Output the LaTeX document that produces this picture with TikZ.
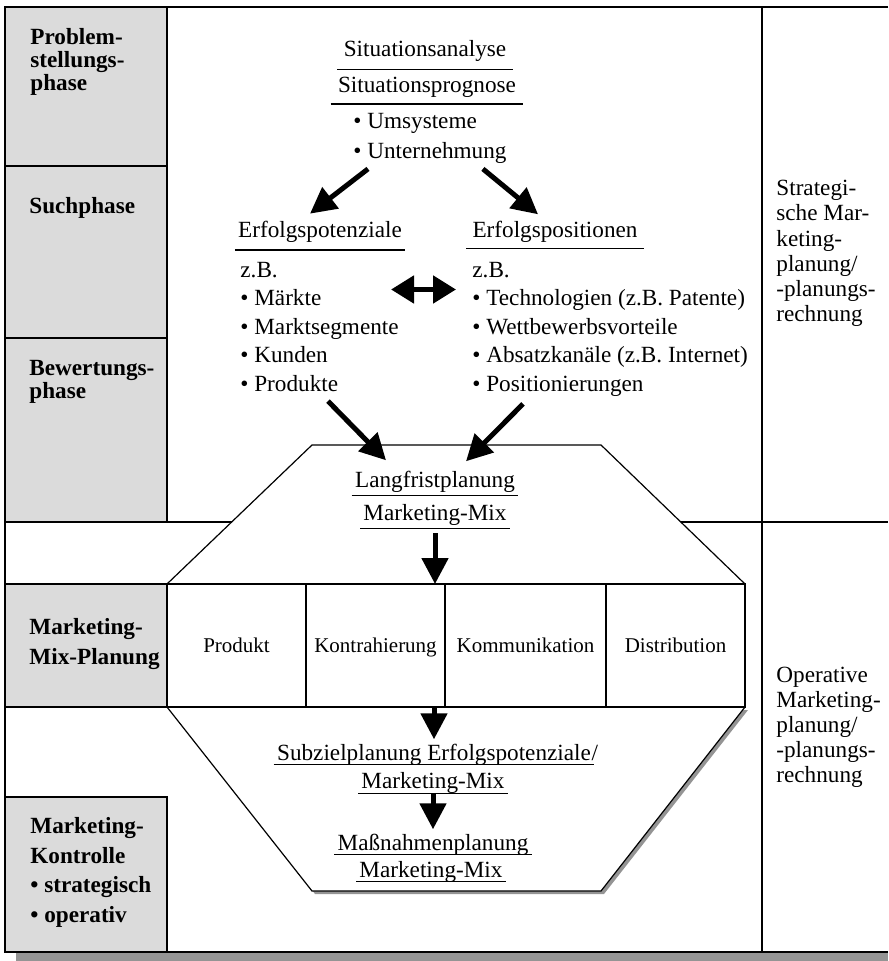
\documentclass[tikz,border=0pt]{standalone}
\usepackage{fontspec}
\setmainfont{Liberation Serif}
\usetikzlibrary{arrows.meta}
\usetikzlibrary{positioning}

\definecolor{phasengrau}{gray}{0.86}
\definecolor{schattengrau}{gray}{0.58}

\tikzset{
  Rahmen/.style={line width=0.9pt},
  Linie/.style={line width=0.6pt},
  Phase/.style={anchor=base west, inner sep=0pt, align=left,
    font=\fontsize{11.6}{#1}\selectfont\bfseries},
  Phase/.default=11.7pt,
  Liste/.style={anchor=base west, inner sep=0pt, align=left,
    font=\fontsize{11.6}{#1}\selectfont},
  Liste/.default=14.3pt,
  Text/.style={inner sep=0pt, font=\fontsize{11.6}{14}\selectfont},
  UL/.style={anchor=base, inner xsep=1.5pt, inner ysep=#1, text depth=0pt,
    font=\fontsize{11.6}{14}\selectfont,
    append after command={(\tikzlastnode.south west) edge[Linie] (\tikzlastnode.south east)}},
  Feld/.style={draw, line width=0.7pt, outer sep=0pt, minimum height=61.5pt,
    minimum width=69.5pt, text height=7pt, text depth=0pt,
    font=\fontsize{10.5}{12}\selectfont},
  Pfeil/.style={line width=2.5pt, -{Triangle[length=13pt,width=13pt]}},
  Doppelpfeil/.style={line width=2.5pt,
    {Triangle[length=11.5pt,width=13.5pt]}-{Triangle[length=11.5pt,width=13.5pt]}}
}

\begin{document}
\begin{tikzpicture}[x=0.5pt, y=-0.5pt]
\useasboundingbox (0,0) rectangle (888,961);

% Rahmen mit Schatten
\fill[schattengrau] (16,952) rectangle (888,961);
\draw[Rahmen] (888,7) -- (5,7) -- (5,952) -- (888,952);

% Phasenspalte (grau)
\foreach \oben/\unten in {7/166, 166/338, 338/522, 584/707, 797/952}
  \draw[Rahmen, fill=phasengrau] (5,\oben) rectangle (167,\unten);

% Trennlinien
\draw[Rahmen] (762,7) -- (762,952);
\draw[Rahmen] (5,522) -- (888,522);

% oberes Trapez
\draw[Linie, fill=white] (167,584) -- (312,445) -- (601,445) -- (745,584);

% unteres Trapez mit Schatten
\fill[schattengrau] (170,710) -- (315,894) -- (604,894) -- (748,710) -- cycle;
\draw[Linie, fill=white] (167,707) -- (312,891) -- (601,891) -- (745,707);

% Marketing-Mix
\node[Feld, anchor=north west] (produkt) at (167,584) {Produkt};
\node[Feld, right=0pt of produkt] (kontr) {Kontrahierung};
\node[Feld, right=0pt of kontr, minimum width=80.5pt] (komm) {Kommunikation};
\node[Feld, right=0pt of komm] (distr) {Distribution};
\draw[Rahmen] (produkt.north west) -- (distr.north east)
              (produkt.south west) -- (distr.south east);

% Phasen (Position = Grundlinie der letzten Zeile)
\node[Phase] (problem) at (30,91) {Problem-\\stellungs-\\phase};
\node[Phase] (such) at (29,214) {Suchphase};
\node[Phase] (bewertung) at (29,399) {Bewertungs-\\phase};
\node[Phase=15pt] (mixplanung) at (29,664) {Marketing-\\Mix-Planung};
\node[Phase=14.75pt] (kontrolle) at (30,922)
  {Marketing-\\Kontrolle\\• strategisch\\• operativ};

% Planungsebenen
\node[Liste=12.65pt] (strategisch) at (776,322)
  {Strategi-\\sche Mar-\\keting-\\planung/\\-planungs-\\rechnung};
\node[Liste=12.5pt] (operativ) at (776,782)
  {Operative\\Marketing-\\planung/\\-planungs-\\rechnung};

% Inhalte
\node[UL=6pt, inner xsep=3pt] (analyse) at (425,57) {Situationsanalyse};
\node[UL=5.3pt, inner xsep=3.5pt] (prognose) at (427,93) {Situationsprognose};
\node[Liste=15pt] (umsysteme) at (353,158.5) {• Umsysteme\\• Unternehmung};

\node[UL=5.8pt] (potenziale) at (320,238) {Erfolgspotenziale};
\node[UL=5pt, inner xsep=3pt] (positionen) at (555,238) {Erfolgspositionen};
\node[Liste] (potliste) at (240,391.5)
  {z.B.\\• Märkte\\• Marktsegmente\\• Kunden\\• Produkte};
\node[Liste] (posliste) at (472,391.5)
  {z.B.\\• Technologien (z.B. Patente)\\• Wettbewerbsvorteile\\• Absatzkanäle (z.B. Internet)\\• Positionierungen};

\node[UL=4pt] (langfrist) at (435,487) {Langfristplanung};
\node[UL=4pt] (mix1) at (435,520) {Marketing-Mix};

\node[UL=2pt] (subziel) at (434,760) {Subzielplanung Erfolgspotenziale};
\node[Text, anchor=base west] (schraeg) at ([xshift=-1.5pt]subziel.base east) {/};
\node[UL=2.5pt] (mix2) at (433,788) {Marketing-Mix};
\node[UL=2pt] (massnahmen) at (433,850) {Maßnahmenplanung};
\node[UL=2pt] (mix3) at (431,877) {Marketing-Mix};

% Pfeile
\draw[Pfeil] ([shift={(15,5)}]umsysteme.south west) -- ([shift={(-10,4)}]potenziale.north);
\draw[Pfeil] ([shift={(-24,5)}]umsysteme.south east) -- ([shift={(-17,3)}]positionen.north);
\draw[Doppelpfeil] ([shift={(-8,28)}]potliste.north east) -- ([shift={(-16,28)}]posliste.north west);
\draw[Pfeil] ([shift={(88,9)}]potliste.south west) -- ([shift={(-49,-2)}]langfrist.north);
\draw[Pfeil] ([shift={(51,7)}]posliste.south west) -- ([shift={(31,-1)}]langfrist.north);
\draw[Pfeil] ([shift={(0,5)}]mix1.south) -- (mix1.south |- kontr.north);
\draw[Pfeil] (subziel.north |- kontr.south) -- (subziel.north);
\draw[Pfeil] (mix2.south) -- (massnahmen.north);

\end{tikzpicture}
\end{document}
